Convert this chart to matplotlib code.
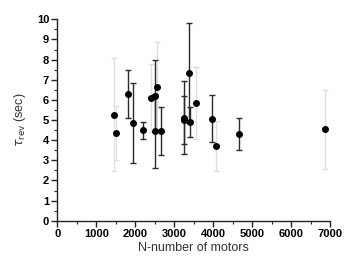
import matplotlib
matplotlib.use("Agg")
import matplotlib.pyplot as plt
from matplotlib.ticker import MultipleLocator

# points with dark error bars
n_dark = [1800, 1950, 2200, 2500, 2500, 2650, 3250, 3250, 3370, 3415, 3970, 4650]
t_dark = [6.3, 4.85, 4.5, 6.2, 4.45, 4.45, 5.12, 5.0, 7.35, 4.9, 5.07, 4.3]
e_dark = [1.2, 2.0, 0.42, 1.8, 1.85, 1.2, 1.8, 1.2, 2.48, 0.75, 1.17, 0.81]

# points with light error bars
n_light = [1450, 1500, 2400, 2550, 3560, 4080, 6870]
t_light = [5.27, 4.35, 6.1, 6.65, 5.85, 3.71, 4.54]
e_light = [2.8, 1.35, 1.68, 2.2, 1.8, 1.24, 1.95]

plt.rcParams['font.family'] = ['Liberation Sans', 'DejaVu Sans']

fig = plt.figure(figsize=(3.56, 2.66), dpi=100)
ax = fig.add_axes([0.1615, 0.170, 0.7655, 0.7575])

ax.errorbar(n_light, t_light, yerr=e_light, fmt='none', ecolor='#dedede',
            elinewidth=0.9, capsize=2.5, capthick=1.0)
ax.errorbar(n_dark, t_dark, yerr=e_dark, fmt='none', ecolor='#2a2a2a',
            elinewidth=1.0, capsize=2.5, capthick=1.0)
ax.plot(n_light + n_dark, t_light + t_dark, 'o', color='black', ms=4.0, ls='none')

ax.set_xlim(0, 7000)
ax.set_ylim(0, 10)
ax.xaxis.set_major_locator(MultipleLocator(1000))
ax.xaxis.set_minor_locator(MultipleLocator(500))
ax.yaxis.set_major_locator(MultipleLocator(1))
ax.yaxis.set_minor_locator(MultipleLocator(0.5))

for s in ['top', 'right']:
    ax.spines[s].set_visible(False)
for s in ['left', 'bottom']:
    ax.spines[s].set_linewidth(1.0)
    ax.spines[s].set_color('#222222')

ax.tick_params(which='major', direction='out', length=4, width=1, color='#222222')
ax.tick_params(which='minor', direction='out', length=2, width=0.8, color='#222222')
ax.tick_params(labelsize=8, pad=2)
for lab in ax.get_xticklabels() + ax.get_yticklabels():
    lab.set_fontweight('bold')

ax.set_xlabel('N-number of motors', fontsize=9, color='#333333', labelpad=2)
ax.set_ylabel(r'$\tau_{\rm rev}$ (sec)', fontsize=9, color='#333333', labelpad=6)

fig.savefig('out.png', dpi=100)
